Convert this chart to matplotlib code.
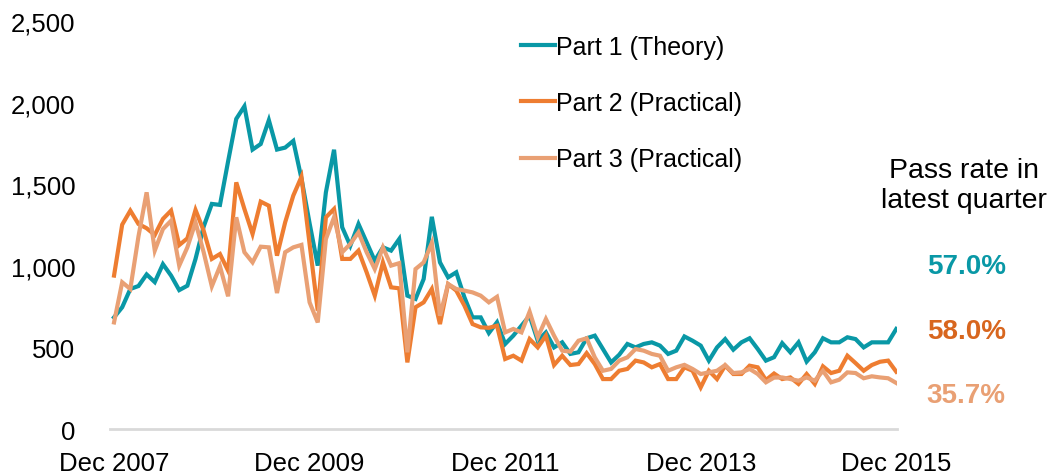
import matplotlib.pyplot as plt

plt.rcParams['font.family'] = ['Liberation Sans', 'DejaVu Sans']

# monthly, Dec 2007 .. Dec 2015
part1 = [684, 746, 858, 876, 947, 900, 1010, 940, 851, 878, 1042, 1240, 1379, 1373, 1640, 1900,
         1977, 1712, 1746, 1892, 1712, 1724, 1765, 1535, 1260, 1001, 1450, 1711, 1236, 1123, 1256, 1144,
         1031, 1113, 1093, 1164, 817, 797, 919, 1300, 1021, 929, 960, 807, 684, 684, 588, 654,
         521, 572, 633, 694, 541, 592, 500, 531, 460, 470, 556, 572, 490, 408, 455, 521,
         500, 521, 531, 511, 460, 480, 567, 541, 511, 419, 500, 551, 486, 531, 556, 490,
         419, 440, 526, 470, 531, 413, 470, 556, 531, 531, 562, 551, 500, 531, 531, 531, 613]
part2 = [940, 1252, 1338, 1256, 1230, 1189, 1287, 1338, 1127, 1168, 1342, 1215, 1042, 1072, 970, 1511,
         1348, 1195, 1393, 1368, 1062, 1266, 1430, 1545, 1134, 725, 1297, 1348, 1042, 1042, 1093, 960,
         817, 1021, 868, 862, 408, 746, 776, 858, 643, 888, 848, 756, 643, 623, 620, 633,
         429, 449, 419, 551, 500, 572, 392, 449, 392, 398, 465, 398, 306, 306, 357, 368,
         419, 408, 378, 398, 306, 306, 378, 357, 255, 357, 306, 388, 337, 337, 388, 378,
         300, 340, 306, 316, 276, 337, 276, 384, 343, 357, 449, 404, 357, 392, 412, 419, 351]
part3 = [653, 899, 858, 1180, 1450, 1093, 1225, 1276, 1001, 1113, 1266, 1083, 874, 997, 813, 1297,
         1083, 1021, 1117, 1113, 833, 1083, 1113, 1128, 776, 653, 1164, 1297, 1083, 1134, 1205, 1083,
         980, 1113, 1001, 1016, 470, 980, 1021, 1140, 694, 888, 858, 848, 837, 817, 776, 810,
         592, 613, 592, 719, 562, 674, 572, 480, 474, 541, 556, 439, 357, 368, 419, 439,
         490, 480, 460, 449, 357, 378, 393, 368, 337, 347, 357, 392, 343, 347, 368, 337,
         286, 315, 316, 306, 296, 316, 296, 357, 286, 302, 347, 343, 311, 323, 316, 311, 282]

series_names = ["Part 1 (Theory)", "Part 2 (Practical)", "Part 3 (Practical)"]
pass_rates = ["57.0%", "58.0%", "35.7%"]
tick_pos = [0, 24, 48, 72, 96]
tick_labels = ["Dec 2007", "Dec 2009", "Dec 2011", "Dec 2013", "Dec 2015"]

line_colors = ["#0998A6", "#EE7D31", "#E9A074"]
rate_colors = ["#0998A6", "#D8661E", "#E9A074"]

fig = plt.figure(figsize=(10.48, 4.77), dpi=100)
ax = fig.add_axes([0.105, 0.0985, 0.751, 0.8555])

months = list(range(len(part1)))
for vals, name, col in zip([part1, part2, part3], series_names, line_colors):
    ax.plot(months, vals, color=col, lw=3.0, label=name, solid_joinstyle='miter')

ax.set_xlim(-0.49, 96.1)
ax.set_ylim(0, 2500)
ax.set_yticks([0, 500, 1000, 1500, 2000, 2500])
ax.set_yticklabels(["0", "500", "1,000", "1,500", "2,000", "2,500"])
ax.set_xticks(tick_pos)
ax.set_xticklabels(tick_labels)
ax.tick_params(axis='both', length=0, labelsize=18.5, colors='black')
ax.tick_params(axis='y', pad=25)
ax.tick_params(axis='x', pad=16)

for s in ['top', 'right', 'left']:
    ax.spines[s].set_visible(False)
ax.spines['bottom'].set_color('#D9D9D9')
ax.spines['bottom'].set_linewidth(2)

leg = ax.legend(loc='upper left', bbox_to_anchor=(0.488, 0.946), bbox_transform=fig.transFigure,
                frameon=False, fontsize=18, handlelength=1.35, handletextpad=0.05,
                labelspacing=1.29, borderaxespad=0)

fig.text(0.92, 0.61, "Pass rate in\nlatest quarter", ha='center', va='center',
         fontsize=20.5, linespacing=1.2)
for txt, col, y in zip(pass_rates, rate_colors, [0.44, 0.304, 0.17]):
    fig.text(0.922, y, txt, ha='center', va='center', fontsize=20, fontweight='bold', color=col)

fig.savefig("out.png", dpi=100)
